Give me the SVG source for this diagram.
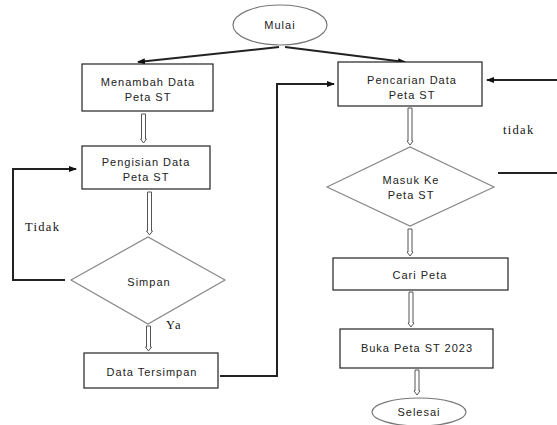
<svg xmlns="http://www.w3.org/2000/svg" width="557" height="425" viewBox="0 0 557 425">
<defs>
<marker id="ah" markerWidth="8" markerHeight="6" refX="7" refY="3" orient="auto" markerUnits="userSpaceOnUse">
<path d="M0,0 L8,3 L0,6 Z" fill="#111"/>
</marker>
</defs>
<style>
.box{fill:#fff;stroke:#222;stroke-width:1.2}
.dia{fill:#fff;stroke:#888;stroke-width:1.2}
.ell{fill:#fff;stroke:#777;stroke-width:1.2}
.t{font-family:"Liberation Sans",Arial,sans-serif;font-size:11px;fill:#222;text-anchor:middle;letter-spacing:1px}
.s{font-family:"Liberation Serif","Times New Roman",serif;font-size:12.5px;fill:#111;letter-spacing:1.3px}
.ln{fill:none;stroke:#222;stroke-width:2}
.da{fill:#fff;stroke:#555;stroke-width:1}
</style>
<rect width="557" height="425" fill="#fff"/>
<g id="connectors">
<path class="ln" d="M279,47 L138,62" marker-end="url(#ah)"/>
<path class="ln" d="M285,47 L405,62" marker-end="url(#ah)"/>
<path class="ln" d="M65,280 L13,280 L13,169 L76,169" marker-end="url(#ah)"/>
<path class="ln" d="M220,376 L277,376 L277,84 L334,84" marker-end="url(#ah)"/>
<path class="ln" d="M557,80 L487,80" marker-end="url(#ah)"/>
<path class="ln" d="M498,173 L557,173"/>
<path class="da" d="M141.5,114 L145.5,114 L145.5,139 L146.5,139 L143.5,143 L140.5,139 L141.5,139 Z"/>
<path class="da" d="M147.5,192 L151.5,192 L151.5,231 L152.5,231 L149.5,235 L146.5,231 L147.5,231 Z"/>
<path class="da" d="M146.5,326 L150.5,326 L150.5,347 L151.5,347 L148.5,351 L145.5,347 L146.5,347 Z"/>
<path class="da" d="M408,108 L412,108 L412,141 L413,141 L410,145 L407,141 L408,141 Z"/>
<path class="da" d="M408,229 L412,229 L412,252 L413,252 L410,256 L407,252 L408,252 Z"/>
<path class="da" d="M409,292 L413,292 L413,323 L414,323 L411,327 L408,323 L409,323 Z"/>
<path class="da" d="M415,370 L419,370 L419,391 L420,391 L417,395 L414,391 L415,391 Z"/>
</g>
<g id="mulai"><ellipse class="ell" cx="280" cy="25" rx="47" ry="20"/><text class="t" x="280" y="29">Mulai</text></g>
<g id="menambah"><rect class="box" x="82" y="64" width="131" height="47"/><text class="t" x="148" y="86">Menambah Data</text><text class="t" x="148" y="101">Peta ST</text></g>
<g id="pengisian"><rect class="box" x="82" y="146" width="128" height="43"/><text class="t" x="146" y="166">Pengisian Data</text><text class="t" x="146" y="181">Peta ST</text></g>
<g id="simpan"><polygon class="dia" points="71,280 148,237 225,280 148,324"/><text class="t" x="149" y="286">Simpan</text></g>
<g id="tersimpan"><rect class="box" x="84" y="353" width="134" height="35"/><text class="t" x="152" y="376">Data Tersimpan</text></g>
<g id="pencarian"><rect class="box" x="338" y="62" width="144" height="44"/><text class="t" x="412" y="84">Pencarian Data</text><text class="t" x="412" y="99">Peta ST</text></g>
<g id="masuk"><polygon class="dia" points="327,187 410,147 494,187 410,226"/><text class="t" x="411" y="184">Masuk Ke</text><text class="t" x="411" y="199">Peta ST</text></g>
<g id="cari"><rect class="box" x="333" y="258" width="175" height="32"/><text class="t" x="420" y="279">Cari Peta</text></g>
<g id="buka"><rect class="box" x="340" y="329" width="153" height="39"/><text class="t" x="417" y="352">Buka Peta ST 2023</text></g>
<g id="selesai"><ellipse class="ell" cx="419" cy="412" rx="47" ry="14"/><text class="t" x="419" y="416">Selesai</text></g>
<g id="labels">
<text class="s" x="25" y="231">Tidak</text>
<text class="s" x="166" y="329">Ya</text>
<text class="s" x="503" y="134">tidak</text>
</g>
</svg>
